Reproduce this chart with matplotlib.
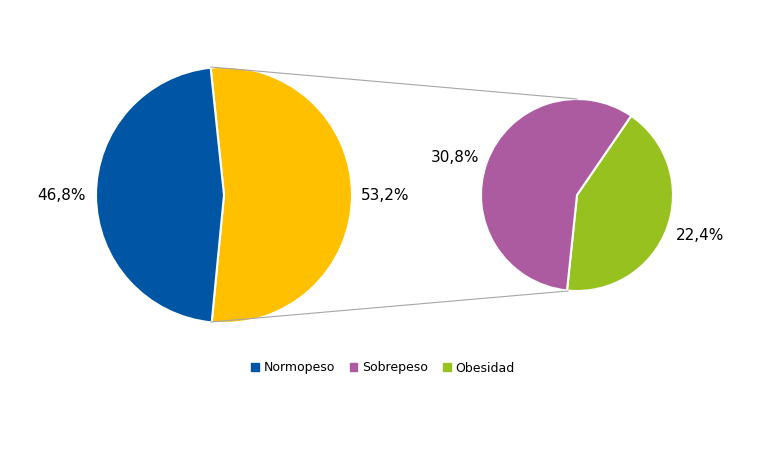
import matplotlib.pyplot as plt
from matplotlib.patches import Patch

main_labels = ['Normopeso', 'Exceso']
main_values = [46.8, 53.2]
sub_labels = ['Sobrepeso', 'Obesidad']
sub_values = [30.8, 22.4]

blue, yellow, purple, green = '#0055a5', '#ffc000', '#ad5ba0', '#97c11f'
H = 463

fig = plt.figure(figsize=(7.67, 4.63), dpi=100)
ax = fig.add_axes([0, 0, 1, 1])
ax.set_xlim(0, 767)
ax.set_ylim(0, H)
ax.axis('off')

# main pie: yellow slice clockwise from near the top
c1, r1 = (224, H - 195), 128
ax.pie(main_values[::-1], colors=[yellow, blue], startangle=96, counterclock=False,
       center=c1, radius=r1, wedgeprops=dict(edgecolor='white', linewidth=1.5),
       frame=True)

# secondary pie splits the yellow slice
c2, r2 = (577, H - 195), 96
ax.pie(sub_values[::-1], colors=[green, purple], startangle=55.6, counterclock=False,
       center=c2, radius=r2, wedgeprops=dict(edgecolor='white', linewidth=1.5),
       frame=True)
ax.set_xlim(0, 767)
ax.set_ylim(0, H)
ax.axis('off')

# connector lines
ax.plot([211, 577], [H - 67, H - 99], color='#a6a6a6', lw=0.8)
ax.plot([211, 568], [H - 322, H - 291], color='#a6a6a6', lw=0.8)

fmt = lambda v: f'{v:.1f}%'.replace('.', ',')
fs = 11
ax.text(62, H - 195, fmt(main_values[0]), fontsize=fs, ha='center', va='center')
ax.text(385, H - 195, fmt(main_values[1]), fontsize=fs, ha='center', va='center')
ax.text(455, H - 157, fmt(sub_values[0]), fontsize=fs, ha='center', va='center')
ax.text(700, H - 236, fmt(sub_values[1]), fontsize=fs, ha='center', va='center')

handles = [Patch(color=c) for c in (blue, purple, green)]
ax.legend(handles, [main_labels[0]] + sub_labels, loc='center',
          bbox_to_anchor=(383 / 767, 1 - 368 / H), ncol=3, frameon=False,
          fontsize=9, handlelength=0.6, handleheight=0.6, handletextpad=0.4,
          columnspacing=1.2)

fig.savefig('out.png', dpi=100)
